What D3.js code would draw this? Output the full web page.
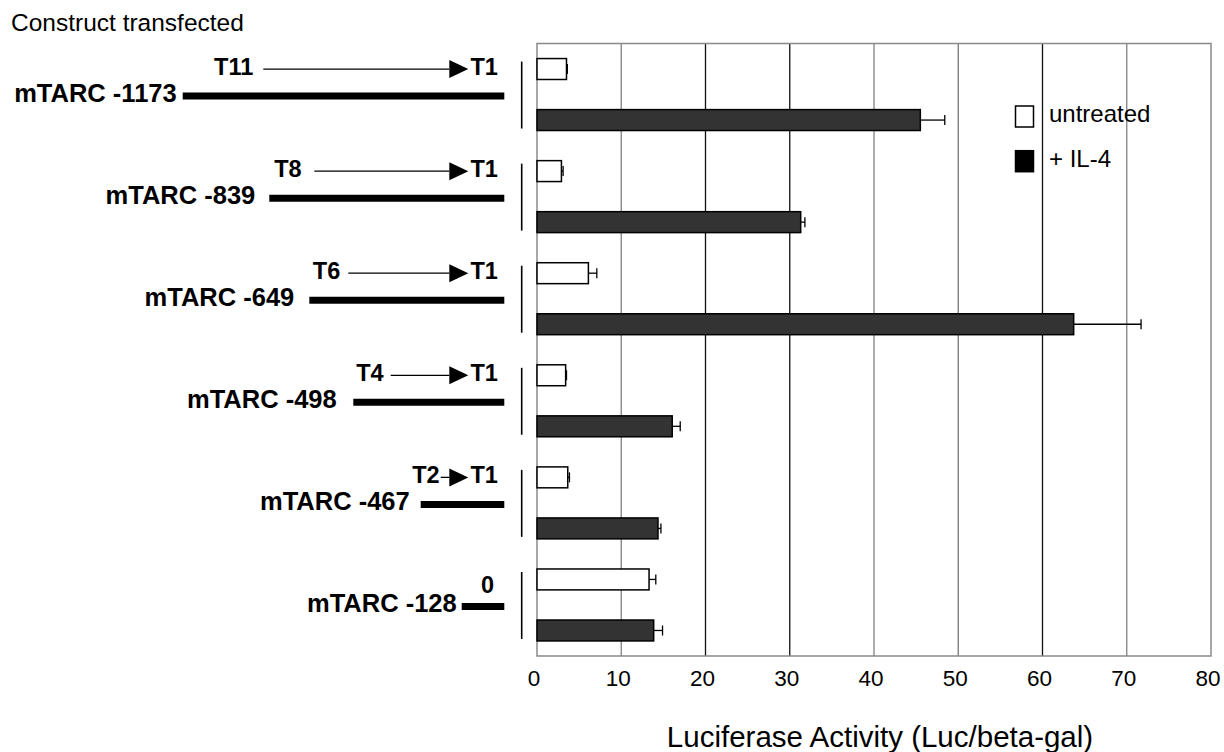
<!DOCTYPE html>
<html>
<head>
<meta charset="utf-8">
<script src="https://cdn.jsdelivr.net/npm/d3@7"></script>
<style>
  body { margin: 0; background: #fff; }
  svg { font-family: "Liberation Sans", Arial, sans-serif; }
</style>
</head>
<body>
<script>
// data
var constructs = ["mTARC -1173", "mTARC -839", "mTARC -649", "mTARC -498", "mTARC -467", "mTARC -128"];
var startSite = ["T11", "T8", "T6", "T4", "T2", "0"];
var series = ["untreated", "+ IL-4"];
var untreated = [3.5, 2.9, 6.1, 3.4, 3.65, 13.3];
var untreatedErr = [0.1, 0.2, 1.0, 0.1, 0.2, 0.8];
var il4 = [45.5, 31.3, 63.7, 16.05, 14.36, 13.85];
var il4Err = [2.9, 0.5, 8.0, 0.95, 0.35, 1.05];
var ticks = [0, 10, 20, 30, 40, 50, 60, 70, 80];

// schematic drawing of each promoter fragment (layout only)
var fragStart = [182.7, 269.3, 309.3, 353.3, 420.7, 461.7];
var labelGap = [6, 14, 15, 16.6, 11, 5];
var arrowTail = [263.3, 314.3, 348.3, 390.7, 440.7, null];
var siteGap = [10, 12.6, 8, 7, 1, 0];

var width = 1224,
    height = 752;

var svg = d3.select("body").append("svg")
    .attr("width", width)
    .attr("height", height);

var plotLeft = 537, plotRight = 1211, plotTop = 43.5, plotBottom = 656;

var x = d3.scaleLinear().domain([0, 80]).range([plotLeft, plotRight]);
var y0 = d3.scaleBand().domain(constructs).range([plotTop, plotBottom]);
var y1 = d3.scaleBand().domain(series).range([0, y0.bandwidth()])
    .paddingInner(0.59).paddingOuter(0.295);

// gridlines (the scan shows some darker than others)
var gridCol = ["#808080", "#111", "#111", "#808080", "#777", "#111", "#808080"];
svg.append("g").selectAll("line")
    .data(ticks.slice(1, -1))
  .enter().append("line")
    .attr("x1", function(d) { return x(d); })
    .attr("x2", function(d) { return x(d); })
    .attr("y1", plotTop).attr("y2", plotBottom)
    .attr("stroke", function(d, i) { return gridCol[i]; })
    .attr("stroke-width", 1.3);

// frame
svg.append("rect")
    .attr("x", plotLeft).attr("y", plotTop)
    .attr("width", plotRight - plotLeft).attr("height", plotBottom - plotTop)
    .attr("fill", "none").attr("stroke", "#8a8a8a").attr("stroke-width", 1.5);

// x axis labels
var xAxis = d3.axisBottom(x).tickValues(ticks).tickSize(0).tickPadding(14.4);
var ax = svg.append("g").attr("transform", "translate(0," + plotBottom + ")").call(xAxis);
ax.select(".domain").remove();
ax.selectAll("text")
    .attr("font-size", 22.5)
    .attr("font-family", "Liberation Sans, Arial, sans-serif")
    .attr("fill", "#000")
    .attr("dx", -3.5);

svg.append("text")
    .attr("x", 880).attr("y", 747)
    .attr("text-anchor", "middle")
    .attr("font-size", 29.5)
    .text("Luciferase Activity (Luc/beta-gal)");

svg.append("text")
    .attr("x", 11).attr("y", 31)
    .attr("font-size", 24.5)
    .text("Construct transfected");

// bars
var rows = constructs.map(function(c, i) {
  return [
    { c: c, s: series[0], v: untreated[i], e: untreatedErr[i] },
    { c: c, s: series[1], v: il4[i], e: il4Err[i] }
  ];
});
var flat = d3.merge(rows);
var fills = { "untreated": "#fff", "+ IL-4": "#333" };

var bar = svg.append("g").selectAll("g")
    .data(flat)
  .enter().append("g")
    .attr("transform", function(d) { return "translate(0," + (y0(d.c) + y1(d.s)) + ")"; });

var bh = y1.bandwidth();

// error bars drawn first so the bar outline sits on top
bar.append("line")
    .attr("x1", function(d) { return x(d.v); })
    .attr("x2", function(d) { return x(d.v + d.e); })
    .attr("y1", bh / 2).attr("y2", bh / 2)
    .attr("stroke", "#000").attr("stroke-width", 1.3);
bar.append("line")
    .attr("x1", function(d) { return x(d.v + d.e); })
    .attr("x2", function(d) { return x(d.v + d.e); })
    .attr("y1", bh / 2 - 5).attr("y2", bh / 2 + 5)
    .attr("stroke", "#000").attr("stroke-width", 1.3);

bar.append("rect")
    .attr("x", x(0))
    .attr("y", 0)
    .attr("width", function(d) { return x(d.v) - x(0); })
    .attr("height", bh)
    .attr("fill", function(d) { return fills[d.s]; })
    .attr("stroke", "#000")
    .attr("stroke-width", 1.5);

// brackets next to each pair of bars
svg.append("g").selectAll("line")
    .data(constructs)
  .enter().append("line")
    .attr("x1", 521.7).attr("x2", 521.7)
    .attr("y1", function(d) { return y0(d) + y1(series[0]) + 3; })
    .attr("y2", function(d) { return y0(d) + y1(series[1]) + bh - 2; })
    .attr("stroke", "#000").attr("stroke-width", 1.6);

// promoter schematic
var fragEnd = 504.3, headBase = 449.3, headTip = 468.3;
var sch = svg.append("g").selectAll("g")
    .data(constructs)
  .enter().append("g")
    .attr("transform", function(d) { return "translate(0," + (y0(d) + y0.bandwidth() / 2) + ")"; });

sch.append("line")
    .attr("x1", function(d, i) { return fragStart[i]; })
    .attr("x2", fragEnd)
    .attr("y1", 1.5).attr("y2", 1.5)
    .attr("stroke", "#000").attr("stroke-width", 7);

sch.append("text")
    .attr("x", function(d, i) { return fragStart[i] - labelGap[i]; })
    .attr("y", 7.5)
    .attr("text-anchor", "end")
    .attr("font-size", 25.5)
    .attr("font-weight", "bold")
    .text(function(d) { return d; });

var withArrow = sch.filter(function(d, i) { return arrowTail[i] != null; });
withArrow.append("line")
    .attr("x1", function(d) { return arrowTail[constructs.indexOf(d)]; })
    .attr("x2", headBase)
    .attr("y1", -25.5).attr("y2", -25.5)
    .attr("stroke", "#000").attr("stroke-width", 1.3);
withArrow.append("path")
    .attr("d", "M" + headBase + "," + (-34.5) + "L" + headTip + "," + (-25.5) + "L" + headBase + "," + (-16.5) + "Z")
    .attr("fill", "#000");
withArrow.append("text")
    .attr("x", function(d) { var i = constructs.indexOf(d); return arrowTail[i] - siteGap[i]; })
    .attr("y", -20)
    .attr("text-anchor", "end")
    .attr("font-size", 23.5)
    .attr("font-weight", "bold")
    .text(function(d) { return startSite[constructs.indexOf(d)]; });
withArrow.append("text")
    .attr("x", 470.5)
    .attr("y", -20)
    .attr("font-size", 23.5)
    .attr("font-weight", "bold")
    .text("T1");

sch.filter(function(d, i) { return arrowTail[i] == null; })
  .append("text")
    .attr("x", 494)
    .attr("y", -12)
    .attr("text-anchor", "end")
    .attr("font-size", 23.5)
    .attr("font-weight", "bold")
    .text(function(d) { return startSite[constructs.indexOf(d)]; });

// legend
var legend = svg.append("g").selectAll("g")
    .data(series)
  .enter().append("g")
    .attr("transform", function(d, i) { return "translate(1015.5," + (106 + i * 44.7) + ")"; });
legend.append("rect")
    .attr("width", 18).attr("height", 21)
    .attr("fill", function(d) { return d === "untreated" ? "#fff" : "#000"; })
    .attr("stroke", "#000").attr("stroke-width", 1.5);
legend.append("text")
    .attr("x", 33.5).attr("y", 16)
    .attr("font-size", 24)
    .text(function(d) { return d; });
</script>
</body>
</html>
